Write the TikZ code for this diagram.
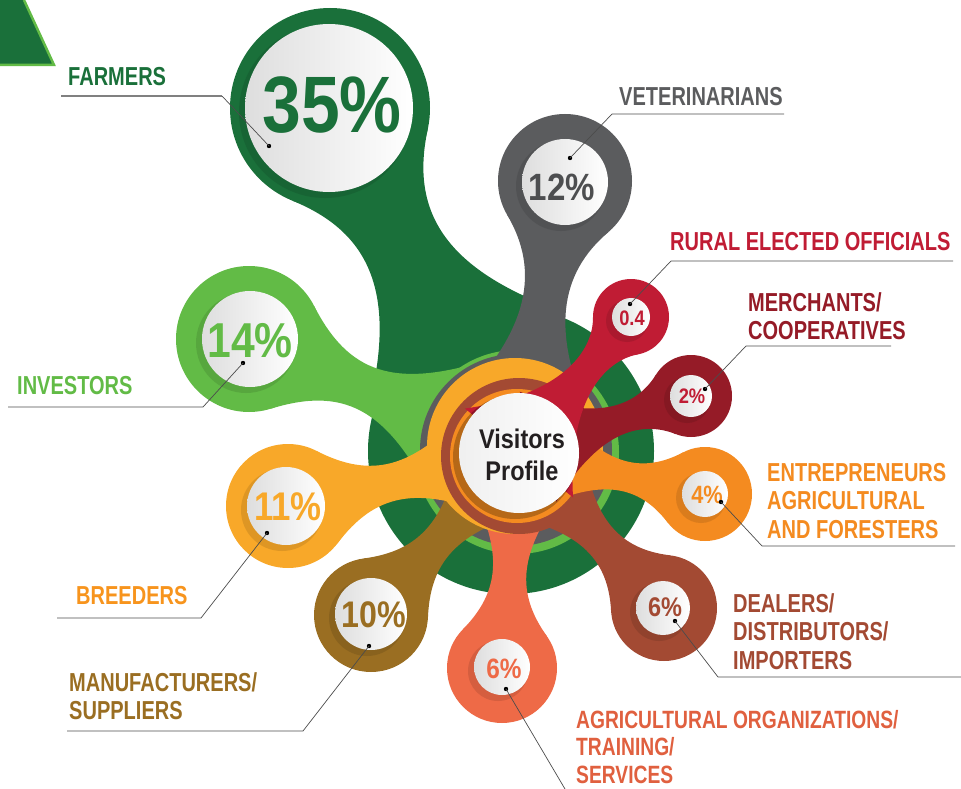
\documentclass[tikz,border=0pt]{standalone}
\usepackage{fontspec}
\setmainfont{Liberation Sans}
\newfontfamily\lblfont{Liberation Sans}[FakeStretch=0.77]
\newfontfamily\numfont{Liberation Sans}[FakeStretch=0.87]
\usepackage{tikz}
\usetikzlibrary{calc}

\definecolor{farmgreen}{HTML}{1A703A}
\definecolor{investgreen}{HTML}{62BB46}
\definecolor{vetgray}{HTML}{5B5C5E}
\definecolor{ruralred}{HTML}{C01C34}
\definecolor{merchred}{HTML}{951B27}
\definecolor{entreorange}{HTML}{F48B20}
\definecolor{dealerbrown}{HTML}{A34A33}
\definecolor{agricoral}{HTML}{EE6A47}
\definecolor{agritext}{HTML}{E0603F}
\definecolor{manufolive}{HTML}{9A6E22}
\definecolor{breedyellow}{HTML}{F8A829}
\definecolor{breedtext}{HTML}{F7941D}
\definecolor{centerink}{HTML}{231F20}

% neck: color, hub, blob, blob radius, waist, spread, start
\newcommand\neck[7]{%
  \path let \p1=($(#3)-(#2)$) in
    \pgfextra{\pgfmathparse{atan2(\y1,\x1)}\xdef\neckang{\pgfmathresult}%
      \pgfmathparse{veclen(\x1,\y1)}\xdef\necklen{\pgfmathresult}};
  \begin{scope}[shift={(#2)}, rotate=\neckang]
    \fill[#1] (#7,#6)
      .. controls ({(#7+\necklen-#4)/2},#5) and ({\necklen-0.643*#4-0.766*(0.766*#4-#5)/0.643},#5)
      .. ({\necklen-0.643*#4},{0.766*#4})
      -- ({\necklen-0.643*#4},{-0.766*#4})
      .. controls ({\necklen-0.643*#4-0.766*(0.766*#4-#5)/0.643},-#5) and ({(#7+\necklen-#4)/2},-#5)
      .. (#7,-#6) -- cycle;
  \end{scope}%
  \fill[#1] (#3) circle ({#4*1pt});}

% bulb: center, radius, color
\newcommand\bulb[3]{%
  \fill[#3!70!black, opacity=.35] ($(#1)+(-4,4)$) circle ({(#2+2)*1pt});
  \shade[left color=black!13, right color=white] (#1) circle ({#2*1pt});}

\begin{document}
\begin{tikzpicture}[x=1pt, y=-1pt,
    lbl/.style={inner sep=0pt, anchor=north west, align=left,
      font=\lblfont\bfseries\fontsize{26}{28.5}\selectfont},
    pct/.style={inner sep=0pt, anchor=base,
      font=\numfont\bfseries\fontsize{#1}{#1}\selectfont},
    dot/.style={circle, fill=black, inner sep=0pt, minimum size=4.4pt},
    leader/.style={black!70, line width=0.7pt}
  ]
  \useasboundingbox (0,0) rectangle (961,789);

  \fill[farmgreen] (0,0) -- (24,0) -- (54,65) -- (0,65) -- cycle;
  \draw[investgreen, line width=2.5pt] (24,0) -- (54,65) -- (0,65);

  \coordinate (core) at (511,451);
  \coordinate (hub) at (519,453);
  \coordinate (farmersc) at (330,108);
  \coordinate (investc) at (249,339);
  \coordinate (vetc) at (565,181);
  \coordinate (ruralc) at (631,317);
  \coordinate (merchc) at (691,396);
  \coordinate (entrec) at (705,494);
  \coordinate (dealerc) at (664,608);
  \coordinate (agric) at (502,668);
  \coordinate (manufc) at (371,615);
  \coordinate (breedc) at (288,506);

  \fill[farmgreen] (core) circle (143pt);
  \neck{farmgreen}{core}{farmersc}{100}{24}{110}{100}

  \fill[investgreen] (517,452) circle (102pt);
  \neck{investgreen}{hub}{investc}{73}{8}{78}{60}

  \fill[vetgray] (516,450) circle (96pt);
  \neck{vetgray}{hub}{vetc}{67}{10}{68}{40}

  \neck{manufolive}{hub}{manufc}{57}{8}{45}{40}
  \neck{agricoral}{hub}{agric}{55}{8}{45}{40}

  \fill[breedyellow] (515,446) circle (88pt);
  \neck{breedyellow}{hub}{breedc}{62}{8}{55}{40}

  \fill[dealerbrown] (519,456) circle (78pt);
  \neck{dealerbrown}{hub}{dealerc}{53}{8}{50}{40}

  \fill[entreorange] (517,456) circle (67pt);
  \neck{entreorange}{hub}{entrec}{47}{6}{50}{30}

  \neck{merchred}{hub}{merchc}{41}{6}{58}{20}
  \neck{ruralred}{hub}{ruralc}{38}{6}{70}{0}

  \fill[black, opacity=.25] (515,457) circle (62pt);
  \shade[left color=black!6, right color=white] (hub) circle (60pt);
  \node[align=center, inner sep=0pt, text=centerink,
    font=\numfont\bfseries\fontsize{27}{32}\selectfont] (visitors) at (522,455) {Visitors\\Profile};

  \bulb{329,108}{84}{farmgreen}
  \bulb{250,339}{48}{investgreen}
  \bulb{565,182}{43}{vetgray}
  \bulb{631,317}{19}{ruralred}
  \bulb{691,396}{21}{merchred}
  \bulb{705,494}{23}{entreorange}
  \bulb{663,608}{27}{dealerbrown}
  \bulb{502,667}{28}{agricoral}
  \bulb{371,614}{36}{manufolive}
  \bulb{286,506}{39}{breedyellow}

  \node[pct=80, text=farmgreen] (farmerspct) at (332,133) {35\%};
  \node[pct=49, text=investgreen] (investpct) at (250,357) {14\%};
  \node[pct=38, text=vetgray!85!black] (vetpct) at (562,200) {12\%};
  \node[pct=21, text=ruralred] (ruralpct) at (632,325) {0.4};
  \node[pct=21, text=ruralred] (merchpct) at (692,403) {2\%};
  \node[pct=25, text=entreorange] (entrepct) at (707,503) {4\%};
  \node[pct=27, text=dealerbrown] (dealerpct) at (665,616) {6\%};
  \node[pct=28, text=agricoral] (agripct) at (504,678) {6\%};
  \node[pct=37, text=manufolive] (manufpct) at (374,627) {10\%};
  \node[pct=40, text=breedyellow] (breedpct) at (288,520) {11\%};

  \node[lbl, text=farmgreen] (farmerslbl) at (68,67) {FARMERS};
  \node[lbl, text=vetgray] (vetlbl) at (619,87) {VETERINARIANS};
  \node[lbl, text=ruralred] (rurallbl) at (670,232) {RURAL ELECTED OFFICIALS};
  \node[lbl, text=merchred] (merchlbl) at (748,292) {MERCHANTS/\\COOPERATIVES};
  \node[lbl, text=entreorange] (entrelbl) at (767,463) {ENTREPRENEURS\\AGRICULTURAL\\AND FORESTERS};
  \node[lbl, text=dealerbrown] (dealerlbl) at (733,593) {DEALERS/\\DISTRIBUTORS/\\IMPORTERS};
  \node[lbl, text=agritext, font=\lblfont\bfseries\fontsize{25}{27.5}\selectfont] (agrilbl) at (576,710) {AGRICULTURAL ORGANIZATIONS/\\TRAINING/\\SERVICES};
  \node[lbl, text=manufolive] (manuflbl) at (69,672) {MANUFACTURERS/\\SUPPLIERS};
  \node[lbl, text=breedtext] (breedlbl) at (76,586) {BREEDERS};
  \node[lbl, text=investgreen] (investlbl) at (17,376) {INVESTORS};

  \node[dot] (farmersdot) at (269,146) {};
  \node[dot] (vetdot) at (570,158) {};
  \node[dot] (ruraldot) at (630,304) {};
  \node[dot] (merchdot) at (705,389) {};
  \node[dot] (entredot) at (721,502) {};
  \node[dot] (dealerdot) at (675,621) {};
  \node[dot] (agridot) at (506,689) {};
  \node[dot] (manufdot) at (369,646) {};
  \node[dot] (breeddot) at (267,533) {};
  \node[dot] (investdot) at (243,363) {};

  \draw[leader, black!50, line width=1.2pt] (61,96) -- (222,96) coordinate (farmersknee);
  \draw[leader] (farmersknee) -- (farmersdot.center);
  \draw[leader] (784,114) -- (612,114) -- (vetdot.center);
  \draw[leader] (953,261) -- (671,261) -- (ruraldot.center);
  \draw[leader] (891,346) -- (746,346) -- (merchdot.center);
  \draw[leader] (955,546) -- (762,546) -- (entredot.center);
  \draw[leader] (961,677) -- (718,677) -- (dealerdot.center);
  \draw[leader] (agridot.center) -- (565,789);
  \draw[leader] (67,731) -- (303,731) -- (manufdot.center);
  \draw[leader] (57,618) -- (201,618) -- (breeddot.center);
  \draw[leader] (8,407) -- (203,407) -- (investdot.center);
\end{tikzpicture}
\end{document}
